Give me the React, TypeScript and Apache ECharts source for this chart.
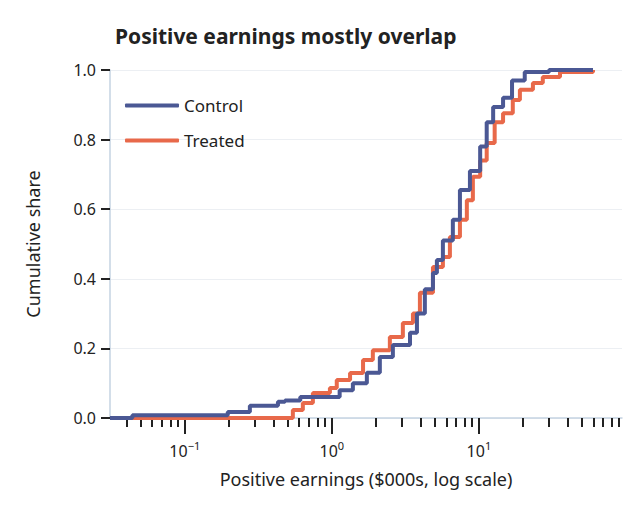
import React, { useRef, useEffect } from "react"
import * as echarts from "echarts"

// ECDF points: earnings ($000s) where the share jumps, and the share after the jump
const controlX = [0.031, 0.044, 0.196, 0.277, 0.43, 0.48, 0.61, 1.13, 1.39, 1.73, 2.12, 2.6, 3.4, 3.79, 4.29, 4.87, 5.18, 5.69, 6.65, 7.43, 8.69, 10.2, 11.3, 12.5, 14.6, 16.8, 20.5, 30]
const controlY = [0, 0.008, 0.017, 0.035, 0.047, 0.05, 0.06, 0.08, 0.1, 0.13, 0.175, 0.21, 0.245, 0.3, 0.37, 0.417, 0.454, 0.51, 0.57, 0.655, 0.71, 0.78, 0.85, 0.894, 0.92, 0.97, 0.994, 1.0]
const treatedX = [0.031, 0.543, 0.635, 0.743, 0.97, 1.08, 1.33, 1.63, 1.9, 2.48, 3.04, 3.56, 3.97, 4.87, 5.69, 6.35, 7.43, 8.28, 9.1, 10.2, 11.3, 12.8, 14.6, 17.0, 19.0, 23.3, 27.2, 35.6, 59.7]
const treatedY = [0, 0.023, 0.043, 0.072, 0.086, 0.109, 0.129, 0.167, 0.195, 0.233, 0.273, 0.3, 0.36, 0.434, 0.463, 0.52, 0.57, 0.626, 0.693, 0.74, 0.79, 0.85, 0.876, 0.914, 0.943, 0.963, 0.98, 0.994, 1.0]

const xMin = 0.031
const xMax = 94
const majorTicks = [0.1, 1, 10]
const minorTicks = [0.04, 0.05, 0.06, 0.07, 0.08, 0.09, 0.2, 0.3, 0.4, 0.5, 0.6, 0.7, 0.8, 0.9, 2, 3, 4, 5, 6, 7, 8, 9, 20, 30, 40, 50, 60, 70, 80, 90]
const majorLabels: Record<string, string> = { "-1": "{b|10}{s|−1}", "0": "{b|10}{s|0}", "1": "{b|10}{s|1}" }

const font = "'Noto Sans', sans-serif"

export default function App() {
  const chartRef = useRef<HTMLDivElement>(null)

  useEffect(() => {
    if (!chartRef.current) return
    const chart = echarts.init(chartRef.current, null, { renderer: "svg" })
    const lg = Math.log10
    const pts = (xs: number[], ys: number[]) => xs.map((x, i) => [lg(x), ys[i]])
    const control = pts(controlX, controlY)
    const treated = pts(treatedX, treatedY)
    const end = lg(treatedX[treatedX.length - 1])
    control.push([end, 1])

    const baseX = {
      type: "value",
      position: "bottom",
      min: lg(xMin),
      max: lg(xMax),
      splitLine: { show: false },
    }

    chart.setOption({
      animation: false,
      textStyle: { fontFamily: font },
      title: {
        text: "Positive earnings mostly overlap",
        left: 102,
        top: 12,
        textStyle: { fontSize: 21, fontWeight: "bold", color: "#222", fontFamily: font },
      },
      legend: {
        orient: "vertical",
        left: 112,
        top: 84,
        icon: "roundRect",
        itemWidth: 54,
        itemHeight: 4,
        itemGap: 18,
        textStyle: { fontSize: 17, color: "#222", fontFamily: font },
        data: ["Control", "Treated"],
      },
      grid: { left: 102, right: 13, top: 62, bottom: 97 },
      xAxis: [
        {
          ...baseX,
          name: "Positive earnings ($000s, log scale)",
          nameLocation: "middle",
          nameGap: 52,
          nameTextStyle: { fontSize: 18, color: "#222", fontFamily: font },
          axisLine: { onZero: false, lineStyle: { color: "#c5d3e2", width: 1.5 } },
          axisTick: { customValues: majorTicks.map(lg), length: 16, lineStyle: { color: "#222", width: 2 } },
          axisLabel: {
            customValues: majorTicks.map(lg),
            margin: 22,
            formatter: (v: number) => majorLabels[String(Math.round(v))],
            rich: {
              b: { fontSize: 16, color: "#222", fontFamily: font },
              s: { fontSize: 11, color: "#222", fontFamily: font, verticalAlign: "top", padding: [0, 0, 10, 0] },
            },
          },
        },
        {
          ...baseX,
          axisLine: { show: false, onZero: false },
          axisTick: { customValues: minorTicks.map(lg), length: 9, lineStyle: { color: "#222", width: 2 } },
          axisLabel: { show: false },
        },
      ],
      yAxis: {
        type: "value",
        min: 0,
        max: 1,
        interval: 0.2,
        name: "Cumulative share",
        nameLocation: "middle",
        nameGap: 68,
        nameTextStyle: { fontSize: 18, color: "#222", fontFamily: font },
        axisLine: { show: true, onZero: false, lineStyle: { color: "#c5d3e2", width: 1.5 } },
        axisTick: { show: true, length: 9, lineStyle: { color: "#222", width: 2 } },
        axisLabel: { fontSize: 16, color: "#222", margin: 14, formatter: (v: number) => v.toFixed(1) },
        splitLine: { lineStyle: { color: "#eceff3" } },
      },
      series: [
        {
          name: "Control",
          type: "line",
          step: "end",
          data: control,
          symbol: "none",
          lineStyle: { color: "#4b5894", width: 4 },
          itemStyle: { color: "#4b5894" },
          z: 3,
        },
        {
          name: "Treated",
          type: "line",
          step: "end",
          data: treated,
          symbol: "none",
          lineStyle: { color: "#e8694a", width: 4 },
          itemStyle: { color: "#e8694a" },
          z: 2,
        },
      ],
    })
    return () => chart.dispose()
  }, [])

  return <div ref={chartRef} style={{ width: 627, height: 507 }} />
}
